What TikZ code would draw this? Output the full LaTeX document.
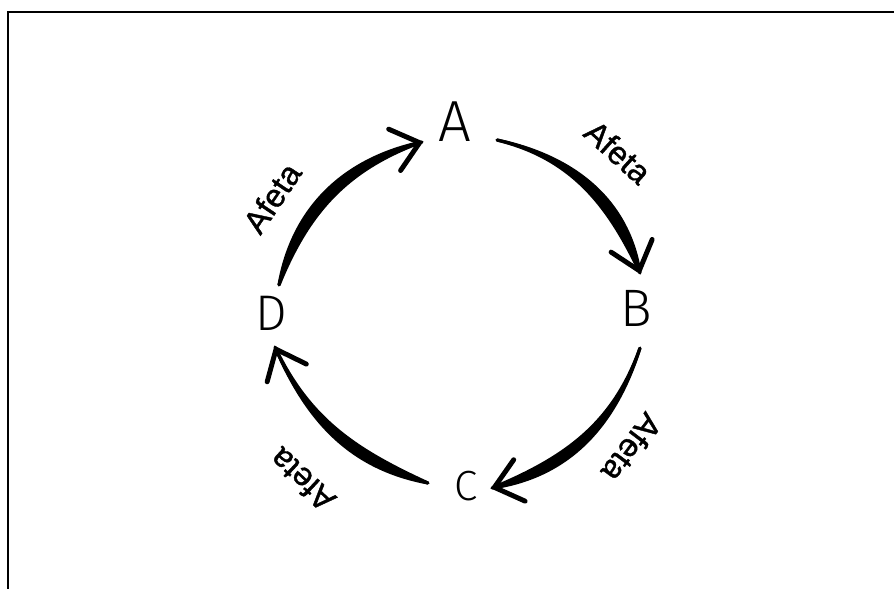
\documentclass[tikz,border=0pt]{standalone}
\usepackage{fontspec}
\setmainfont{Liberation Sans}
\newfontfamily\handfont{Fira Sans Light}
\newfontfamily\lblfont{Liberation Sans}[FakeBold=1.2]
\usepackage{tikz}
\usetikzlibrary{arrows.meta}
\tikzset{
    letter/.style={inner sep=0pt, font=\handfont\fontsize{30}{30}\selectfont},
    lbl/.style={inner sep=0pt, font=\lblfont\fontsize{18.5}{18.5}\selectfont},
    arr/.style={line width=1.8pt, line cap=round,
                -{Straight Barb[length=0.52cm, width=0.86cm, line width=2.8pt, round]}},
    lens/.style={fill=black, draw=black, line width=1.8pt, line join=round},
    frame/.style={line width=1.7pt},
}

\begin{document}
\begin{tikzpicture}[x=0.02cm, y=-0.02cm]
    \useasboundingbox (0,0) rectangle (894,589);
    \draw[frame] (8,589) -- (8,12) -- (894,12);

    \node[letter, scale=1.1]  (a) at (455,122) {A};
    \node[letter]             (b) at (636,308) {B};
    \node[letter, scale=0.8]  (c) at (466,486) {C};
    \node[letter, scale=0.95] (d) at (271,313) {D};

    % arrow ends
    \coordinate (s1) at (497,140);  \coordinate (t1) at (640,273);
    \coordinate (s2) at (640,348);  \coordinate (t2) at (492,488);
    \coordinate (s3) at (428,483);  \coordinate (t3) at (275,347);
    \coordinate (s4) at (279,285);  \coordinate (t4) at (422,142);

    % A -> B
    \filldraw[lens] (s1) to[out=31, in=142, relative] (t1)
                         to[out=-22, in=209, relative] (s1);
    \draw[arr] (s1) to[bend left=30] (t1);
    % B -> C
    \filldraw[lens] (s2) to[out=29, in=145, relative] (t2)
                         to[out=-21, in=207, relative] (s2);
    \draw[arr] (s2) to[bend left=28] (t2);
    % C -> D
    \filldraw[lens] (s3) to[out=31, in=155, relative] (t3)
                         to[out=-23, in=197, relative] (s3);
    \draw[arr] (s3) to[bend left=24] (t3);
    % D -> A
    \filldraw[lens] (s4) to[out=35, in=147, relative] (t4)
                         to[out=-25, in=203, relative] (s4);
    \draw[arr] (s4) to[bend left=29] (t4);

    \node[lbl, rotate=-42]  (l1) at (618,152) {Afeta};
    \node[lbl, rotate=-127] (l2) at (632,448) {Afeta};
    \node[lbl, rotate=137]  (l3) at (302,480) {Afeta};
    \node[lbl, rotate=56]   (l4) at (272,198) {Afeta};
\end{tikzpicture}
\end{document}
